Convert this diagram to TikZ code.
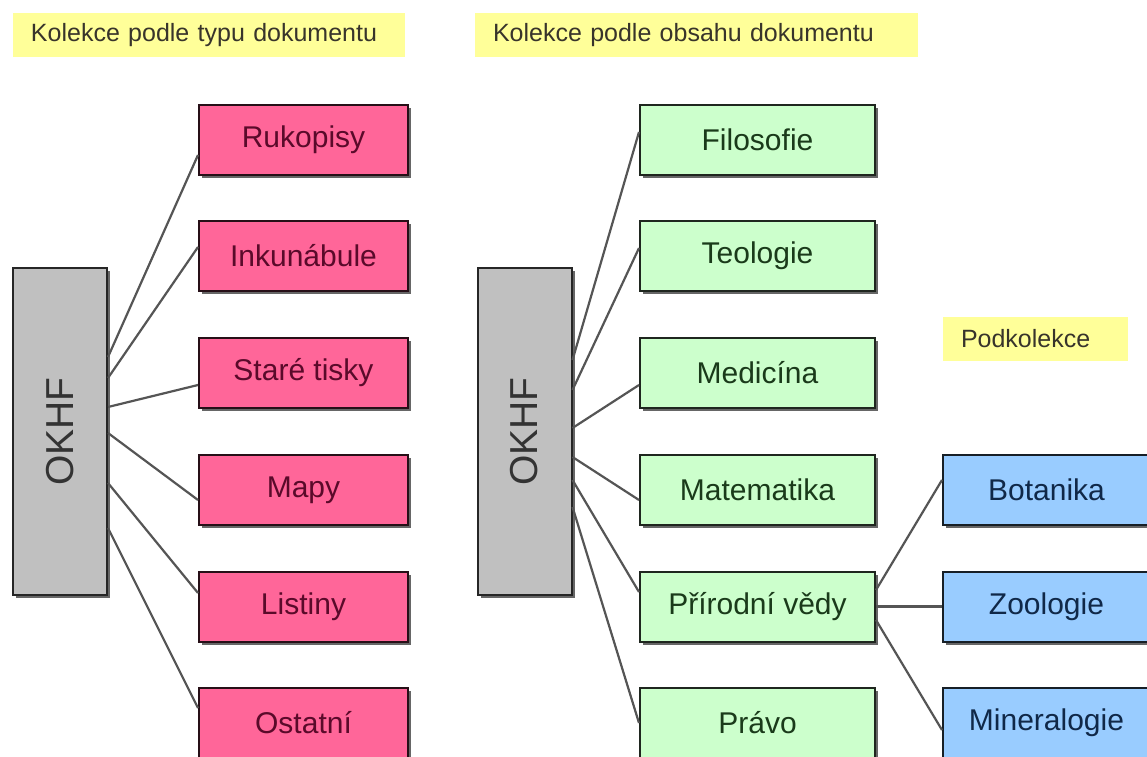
\documentclass[tikz,border=0pt]{standalone}
\usepackage{fontspec}
\setmainfont{Liberation Sans}
\usetikzlibrary{shadows}

\definecolor{typfill}{HTML}{FF6699}
\definecolor{typtext}{HTML}{5A0A2A}
\definecolor{obsfill}{HTML}{CCFFCC}
\definecolor{obstext}{HTML}{1A3A1A}
\definecolor{podfill}{HTML}{99CCFF}
\definecolor{podtext}{HTML}{102848}
\definecolor{rootfill}{HTML}{C0C0C0}
\definecolor{notefill}{HTML}{FFFF99}
\definecolor{linkgray}{HTML}{555555}

\begin{document}
\begin{tikzpicture}[x=0.5pt, y=-0.5pt,
    coll/.style={rectangle, line width=1pt, inner sep=0pt, minimum height=35pt,
      font=\fontsize{15}{18}\selectfont,
      drop shadow={shadow xshift=1.5pt, shadow yshift=-1.5pt, fill=black, opacity=0.6}},
    typbox/.style={coll, draw=black!85!typfill, fill=typfill, text=typtext, minimum width=104.5pt},
    obsbox/.style={coll, draw=black!85!obsfill, fill=obsfill, text=obstext, minimum width=117.5pt},
    podbox/.style={coll, draw=black!85!podfill, fill=podfill, text=podtext, minimum width=103.5pt},
    rootbox/.style={coll, draw=black!85, fill=rootfill, text=black!80, minimum width=47pt, minimum height=163.5pt,
      font=\fontsize{19.5}{22}\selectfont},
    note/.style={rectangle, fill=notefill, text=black!80!olive, inner ysep=0pt, inner xsep=9pt,
      minimum height=22pt, align=left, font=\fontsize{12.5}{14}\selectfont},
    link/.style={draw=linkgray, line width=1.1pt}]

  \useasboundingbox[fill=white] (0,0) rectangle (1147,756);

  % Nodes
  \node[note, text width=178pt] at (209,35) (notetyp) {Kolekce podle typu dokumentu};
  \node[note, text width=203.5pt] at (696.5,35) (noteobs) {Kolekce podle obsahu dokumentu};
  \node[note, text width=74.5pt] at (1035.5,339) (notepod) {Podkolekce};

  \node[rootbox] at (60,431.5) (rootA) {\rotatebox{90}{OKHF}};
  \node[rootbox] at (524.5,431.5) (rootB) {\rotatebox{90}{OKHF}};

  \node[typbox] at (303.5,140) (ruk) {Rukopisy};
  \node[typbox] at (303.5,256) (ink) {Inkunábule};
  \node[typbox] at (303.5,373) (sta) {Staré tisky};
  \node[typbox] at (303.5,490) (map) {Mapy};
  \node[typbox] at (303.5,606.5) (lis) {Listiny};
  \node[typbox] at (303.5,723) (ost) {Ostatní};

  \node[obsbox] at (757.5,140) (fil) {Filosofie};
  \node[obsbox] at (757.5,256) (teo) {Teologie};
  \node[obsbox] at (757.5,373) (med) {Medicína};
  \node[obsbox] at (757.5,490) (mat) {Matematika};
  \node[obsbox] at (757.5,606.5) (pri) {Přírodní vědy};
  \node[obsbox] at (757.5,723) (pra) {Právo};

  \node[podbox] at (1046.5,490) (bot) {Botanika};
  \node[podbox] at (1046.5,606.5) (zoo) {Zoologie};
  \node[podbox] at (1046.5,723) (mine) {Mineralogie};

  % Links
  \draw[link] ([yshift=37.25pt]rootA.east) -- ([yshift=-7.5pt]ruk.west);
  \draw[link] ([yshift=26.75pt]rootA.east) -- ([yshift=4.5pt]ink.west);
  \draw[link] ([yshift=12.25pt]rootA.east) -- ([yshift=-6pt]sta.west);
  \draw[link] ([yshift=-0.75pt]rootA.east) -- ([yshift=-5pt]map.west);
  \draw[link] ([yshift=-25.75pt]rootA.east) -- ([yshift=6.75pt]lis.west);
  \draw[link] ([yshift=-48.25pt]rootA.east) -- ([yshift=7.5pt]ost.west);

  \draw[link] ([yshift=35.75pt]rootB.east) -- ([yshift=4pt]fil.west);
  \draw[link] ([yshift=20.75pt]rootB.east) -- ([yshift=4pt]teo.west);
  \draw[link] ([yshift=1.75pt]rootB.east) -- ([yshift=-6pt]med.west);
  \draw[link] ([yshift=-12.75pt]rootB.east) -- ([yshift=-5pt]mat.west);
  \draw[link] ([yshift=-24.25pt]rootB.east) -- ([yshift=7.25pt]pri.west);
  \draw[link] ([yshift=-37.75pt]rootB.east) -- (pra.west);

  \draw[link] ([yshift=8.25pt]pri.east) -- ([yshift=5pt]bot.west);
  \draw[link] (pri.east) -- (zoo.west);
  \draw[link] ([yshift=-6.75pt]pri.east) -- ([yshift=-3.5pt]mine.west);
\end{tikzpicture}
\end{document}
